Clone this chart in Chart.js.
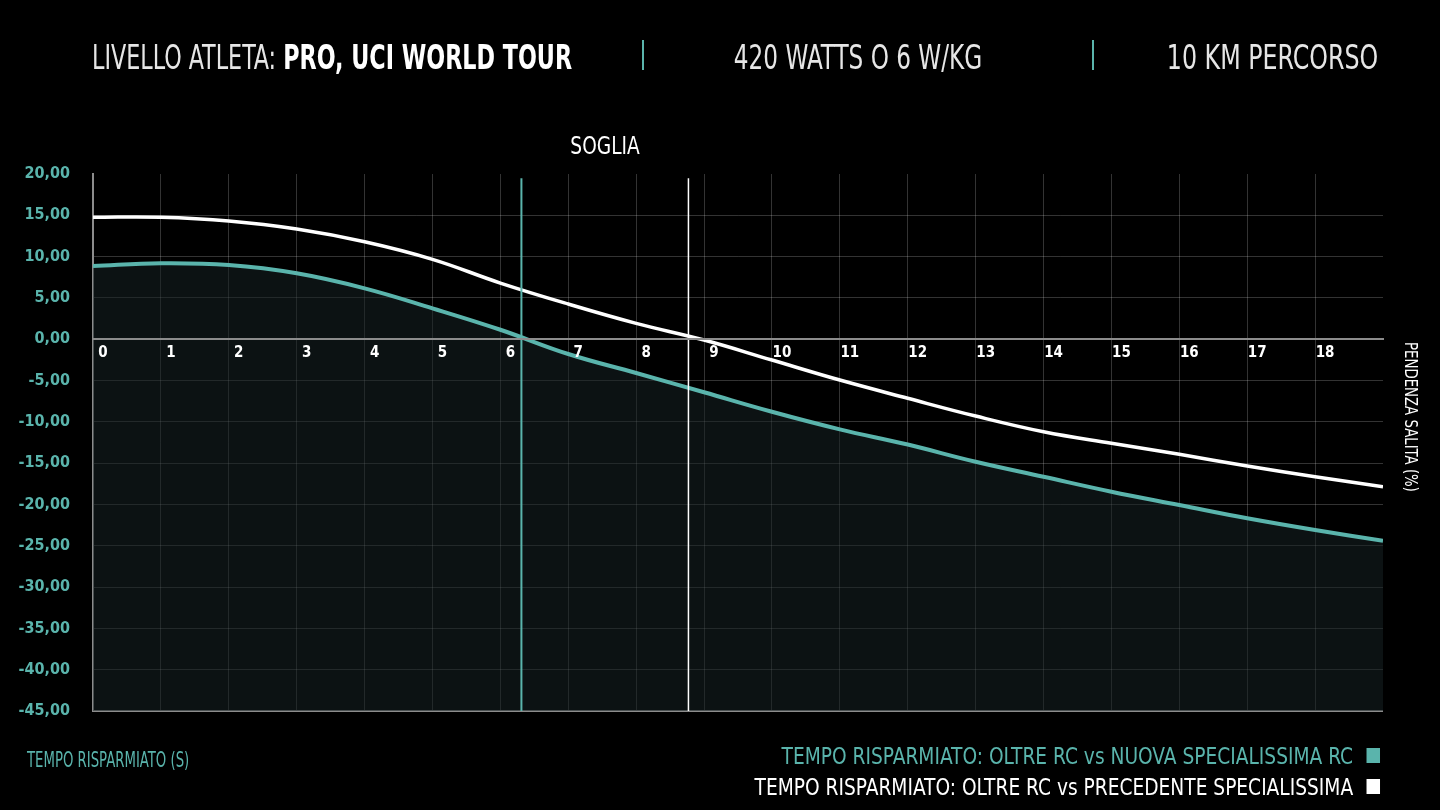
<!DOCTYPE html>
<html>
<head>
<meta charset="utf-8">
<script src="https://cdn.jsdelivr.net/npm/chart.js@4.4.1/dist/chart.umd.min.js"></script>
<style>
  html, body { margin: 0; padding: 0; background: #000; }
  body { width: 1440px; height: 810px; position: relative; overflow: hidden;
         font-family: "Liberation Sans Narrow", "DejaVu Sans Condensed", "Roboto", sans-serif; color: #fff; }
  #chart { position: absolute; left: 0; top: 0; }
  .t { position: absolute; white-space: nowrap; line-height: 1; }
  .head { top: 41px; font-size: 33px; color: #e6e6e6; }
  .head b { color: #fff; }
  .sep { position: absolute; top: 40px; width: 2px; height: 30px; background: #5ab4ac; }
  .legend { right: 60px; font-size: 23px; transform: scaleX(0.9); transform-origin: right center; }
  .legend span { display: inline-block; width: 15px; height: 15px; margin-left: 15px; vertical-align: 1px; }
</style>
</head>
<body>
<canvas id="chart" width="1440" height="810"></canvas>

<div class="t head" style="left:92px; transform:scaleX(0.75); transform-origin:left center">LIVELLO ATLETA: <b>PRO, UCI WORLD TOUR</b></div>
<div class="sep" style="left:642px"></div>
<div class="t head" style="left:858px; transform:translateX(-50%) scaleX(0.78)">420 WATTS O 6 W/KG</div>
<div class="sep" style="left:1092px"></div>
<div class="t head" style="right:62px; transform:scaleX(0.8); transform-origin:right center">10 KM PERCORSO</div>

<div class="t" style="left:605px; top:134px; font-size:24px; transform:translateX(-50%) scaleX(0.86)">SOGLIA</div>
<div class="t" style="left:1402px; top:342px; font-size:17px; writing-mode:vertical-rl; transform:scaleY(0.87); transform-origin:center top">PENDENZA SALITA (%)</div>
<div class="t" style="left:27px; top:749px; font-size:22px; color:#5ab4ac; transform:scaleX(0.67); transform-origin:left center">TEMPO RISPARMIATO (S)</div>
<div class="t legend" style="top:745px; color:#5ab4ac">TEMPO RISPARMIATO: OLTRE RC vs NUOVA SPECIALISSIMA RC<span style="background:#5ab4ac"></span></div>
<div class="t legend" style="top:776px; color:#fff">TEMPO RISPARMIATO: OLTRE RC vs PRECEDENTE SPECIALISSIMA<span style="background:#fff"></span></div>

<script>
// pendenza salita (%)
const grades = [0, 1, 2, 3, 4, 5, 6, 7, 8, 9, 10, 11, 12, 13, 14, 15, 16, 17, 18, 19];
// tempo risparmiato (s): Oltre RC vs nuova Specialissima RC
const savedVsNew = [8.86, 9.19, 8.98, 7.98, 6.16, 3.74, 1.15, -1.79, -4.09, -6.42,
                    -8.78, -10.91, -12.75, -14.83, -16.65, -18.46, -20.07, -21.68, -23.10, -24.39];
// tempo risparmiato (s): Oltre RC vs precedente Specialissima
const savedVsOld = [14.76, 14.76, 14.31, 13.34, 11.80, 9.67, 6.80, 4.26, 1.92, -0.10,
                    -2.52, -4.94, -7.15, -9.30, -11.20, -12.60, -13.93, -15.35, -16.65, -17.86];
// soglia: pendenza dove il risparmio va a zero
const thresholds = [6.31, 8.77];
const yMin = -45, yMax = 20, yStep = 5;

const teal = '#5ab4ac';
const font = '"Liberation Sans Narrow", "DejaVu Sans Condensed", sans-serif';
const fmt = v => v.toFixed(2).replace('.', ',');
const pts = vals => grades.map((g, i) => ({ x: g, y: vals[i] }));
const vline = x => [{ x: x, y: yMin }, { x: x, y: yMax - 0.5 }];

new Chart(document.getElementById('chart'), {
    type: 'line',
    data: {
        datasets: [
            {
                label: 'TEMPO RISPARMIATO: OLTRE RC vs NUOVA SPECIALISSIMA RC',
                data: pts(savedVsNew),
                borderColor: teal,
                borderWidth: 4,
                backgroundColor: 'rgba(22,32,34,0.55)',
                fill: 'start',
                pointRadius: 0,
                tension: 0.4,
                order: 2
            },
            {
                label: 'TEMPO RISPARMIATO: OLTRE RC vs PRECEDENTE SPECIALISSIMA',
                data: pts(savedVsOld),
                borderColor: '#fff',
                borderWidth: 3.5,
                fill: false,
                pointRadius: 0,
                tension: 0.4,
                order: 1
            },
            {
                label: 'soglia nuova',
                data: vline(thresholds[0]),
                borderColor: teal,
                borderWidth: 2,
                pointRadius: 0,
                fill: false,
                order: 0
            },
            {
                label: 'soglia precedente',
                data: vline(thresholds[1]),
                borderColor: '#fff',
                borderWidth: 1.5,
                pointRadius: 0,
                fill: false,
                order: 0
            }
        ]
    },
    options: {
        responsive: false,
        animation: false,
        layout: {
            padding: { top: 174, bottom: 99, left: 0, right: 57 }
        },
        scales: {
            x: {
                type: 'linear',
                position: { y: 0 },
                min: 0,
                max: 19,
                border: { display: true, color: '#8c8c8c', width: 2, z: 1 },
                grid: {
                    drawTicks: false,
                    color: c => c.tick.value === 19 ? 'rgba(0,0,0,0)' : 'rgba(255,255,255,0.2)'
                },
                ticks: {
                    z: 1,
                    stepSize: 1,
                    autoSkip: false,
                    maxRotation: 0,
                    labelOffset: 10,
                    padding: 5,
                    color: '#fff',
                    font: { family: font, size: 15, weight: 'bold' },
                    callback: v => v === 19 ? '' : v
                }
            },
            y: {
                min: yMin,
                max: yMax,
                afterFit: s => { s.width = 93; },
                border: { display: true, color: '#8c8c8c', width: 2 },
                grid: {
                    drawTicks: false,
                    color: c => c.tick.value === yMax ? 'rgba(0,0,0,0)' : (c.tick.value === yMin ? '#8c8c8c' : 'rgba(255,255,255,0.2)'),
                    lineWidth: c => c.tick.value === yMin ? 2 : 1
                },
                ticks: {
                    stepSize: yStep,
                    padding: 23,
                    color: teal,
                    font: { family: font, size: 16, weight: 'bold' },
                    callback: v => fmt(v)
                }
            }
        },
        plugins: {
            legend: { display: false },
            tooltip: { enabled: false }
        }
    }
});
</script>
</body>
</html>
